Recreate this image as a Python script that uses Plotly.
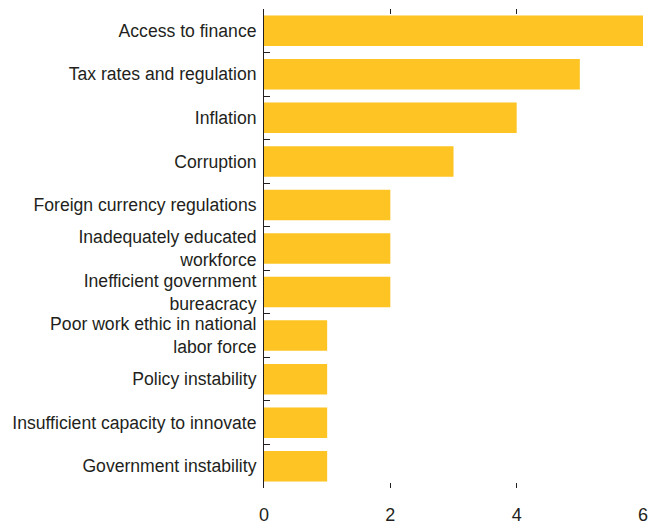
import plotly.graph_objects as go

categories = [
    "Access to finance",
    "Tax rates and regulation",
    "Inflation",
    "Corruption",
    "Foreign currency regulations",
    "Inadequately educated<br>workforce",
    "Inefficient government<br>bureacracy",
    "Poor work ethic in national<br>labor force",
    "Policy instability",
    "Insufficient capacity to innovate",
    "Government instability",
]
values = [6, 5, 4, 3, 2, 2, 2, 1, 1, 1, 1]
x_ticks = [0, 2, 4, 6]

BAR = "#FDC423"
FONT = "Liberation Sans Narrow, Arial Narrow, Liberation Sans, sans-serif"
n = len(categories)
positions = list(range(n))

fig = go.Figure()
fig.add_trace(go.Bar(
    x=values, y=positions, orientation="h",
    marker=dict(color=BAR, line=dict(width=0)),
    width=0.7, hoverinfo="skip",
))
# invisible trace to activate secondary axes
fig.add_trace(go.Scatter(x=[0], y=[0], xaxis="x2", yaxis="y2",
                         mode="markers", marker=dict(opacity=0), hoverinfo="skip"))

fig.update_layout(
    width=649, height=526,
    margin=dict(l=264, r=6, t=9, b=38),
    paper_bgcolor="white", plot_bgcolor="white",
    showlegend=False,
    font=dict(family=FONT, size=17.6, color="#231F20"),
    xaxis=dict(range=[0, 6], tickvals=x_ticks, ticktext=[str(v) for v in x_ticks],
               ticks="inside", ticklen=5, tickwidth=1, tickcolor="#231F20",
               showgrid=False, zeroline=False, showline=False, automargin=False,
               ticklabeloverflow="allow", ticklabelstandoff=14,
               tickfont=dict(size=18)),
    xaxis2=dict(overlaying="x", side="top", range=[0, 6], tickvals=x_ticks,
                showticklabels=False, ticks="inside", ticklen=5, tickwidth=1,
                tickcolor="#231F20", showgrid=False, zeroline=False, showline=False,
                automargin=False),
    yaxis=dict(range=[n - 0.5, -0.5], tickvals=positions, ticktext=categories,
               ticks="", showgrid=False, zeroline=False, automargin=False,
               showline=True, linecolor="#231F20", linewidth=1,
               ticklabelstandoff=3, tickfont=dict(size=17.6)),
    yaxis2=dict(overlaying="y", range=[n - 0.5, -0.5],
                tickvals=[p - 0.5 for p in positions] + [n - 0.5],
                showticklabels=False, ticks="inside", ticklen=6, tickwidth=1,
                tickcolor="#231F20", showgrid=False, zeroline=False, showline=False,
                automargin=False, anchor="x"),
)

fig.write_html(
    "out.html",
    config={"displayModeBar": False},
    post_script="document.body.style.margin='0';document.body.style.overflow='hidden';",
)
